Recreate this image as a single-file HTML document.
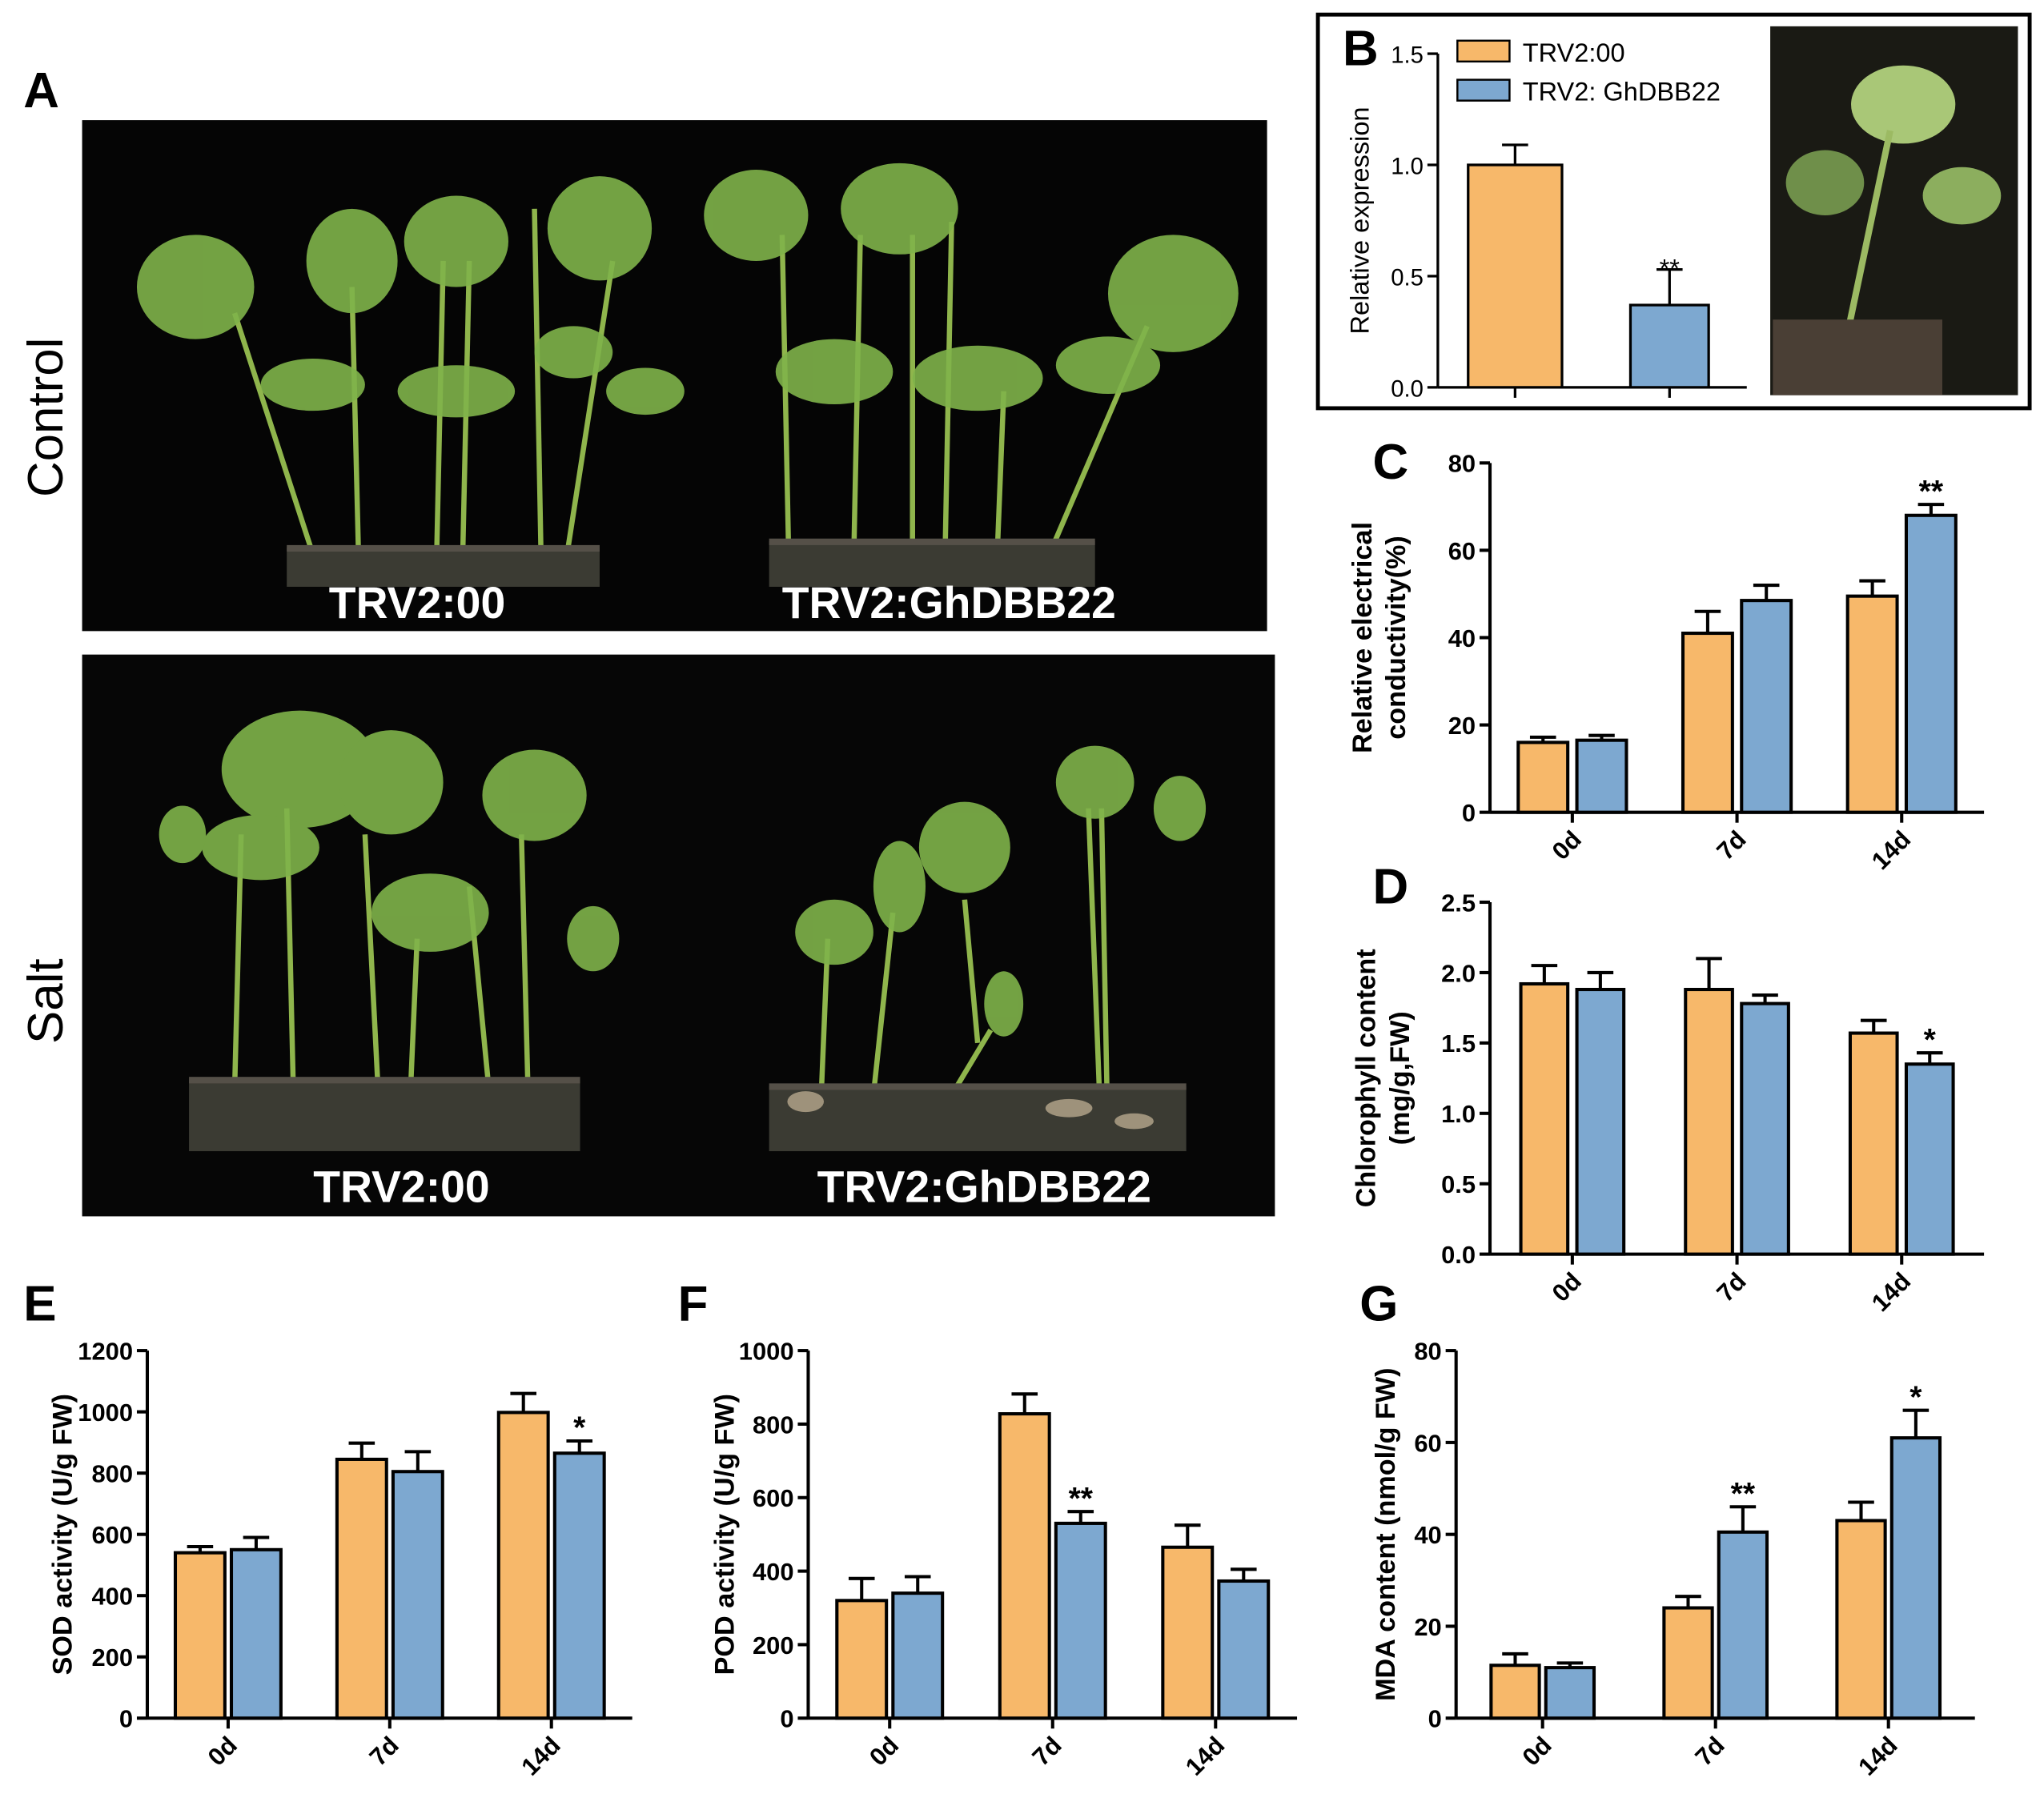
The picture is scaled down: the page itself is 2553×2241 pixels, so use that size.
<!DOCTYPE html>
<html><head><meta charset="utf-8"><style>
html,body{margin:0;padding:0;background:#fff}
svg{display:block}
text{font-family:"Liberation Sans",Arial,sans-serif}
</style></head><body>
<svg id="fig" width="2553" height="2241" viewBox="0 0 1568 1376" xmlns="http://www.w3.org/2000/svg">
<g>
<text x="18" y="82" font-size="38" font-weight="bold">A</text>
<rect x="63" y="92" width="909" height="392" fill="#050505"/>
<rect x="63" y="502" width="915" height="431" fill="#060606"/>
<text transform="translate(48,320) rotate(-90)" text-anchor="middle" font-size="38">Control</text>
<text transform="translate(48,768) rotate(-90)" text-anchor="middle" font-size="38">Salt</text>
<g stroke="#8fb54c" stroke-width="4" fill="none">
<path d="M180 240 L240 425"/><path d="M270 220 L275 425"/><path d="M340 200 L335 425"/><path d="M360 200 L355 425"/><path d="M410 160 L415 425"/><path d="M470 200 L435 425"/>
<path d="M600 180 L605 425"/><path d="M660 180 L655 425"/><path d="M700 180 L700 425"/><path d="M730 170 L725 425"/><path d="M770 300 L765 425"/><path d="M880 250 L805 425"/>
</g>
<g stroke="#8fb54c" stroke-width="4" fill="none">
<path d="M185 640 L180 835"/><path d="M220 620 L225 835"/><path d="M280 640 L290 835"/><path d="M320 720 L315 835"/><path d="M400 640 L405 835"/><path d="M360 680 L375 835"/>
<path d="M635 720 L630 840"/><path d="M685 700 L670 840"/><path d="M740 690 L750 800"/><path d="M760 790 L730 840"/><path d="M845 620 L850 880"/><path d="M835 620 L845 880"/>
</g>
<g fill="#7fb34a" opacity="0.9">
<ellipse cx="150" cy="220" rx="45" ry="40"/><ellipse cx="270" cy="200" rx="35" ry="40"/><ellipse cx="350" cy="185" rx="40" ry="35"/><ellipse cx="460" cy="175" rx="40" ry="40"/>
<ellipse cx="240" cy="295" rx="40" ry="20"/><ellipse cx="350" cy="300" rx="45" ry="20"/><ellipse cx="440" cy="270" rx="30" ry="20"/><ellipse cx="495" cy="300" rx="30" ry="18"/>
<ellipse cx="580" cy="165" rx="40" ry="35"/><ellipse cx="690" cy="160" rx="45" ry="35"/><ellipse cx="900" cy="225" rx="50" ry="45"/><ellipse cx="640" cy="285" rx="45" ry="25"/><ellipse cx="750" cy="290" rx="50" ry="25"/><ellipse cx="850" cy="280" rx="40" ry="22"/>
</g>
<g fill="#7fb34a" opacity="0.9">
<ellipse cx="230" cy="590" rx="60" ry="45"/><ellipse cx="300" cy="600" rx="40" ry="40"/><ellipse cx="410" cy="610" rx="40" ry="35"/><ellipse cx="200" cy="650" rx="45" ry="25"/><ellipse cx="330" cy="700" rx="45" ry="30"/><ellipse cx="455" cy="720" rx="20" ry="25"/><ellipse cx="140" cy="640" rx="18" ry="22"/>
<ellipse cx="740" cy="650" rx="35" ry="35"/><ellipse cx="640" cy="715" rx="30" ry="25"/><ellipse cx="690" cy="680" rx="20" ry="35"/><ellipse cx="840" cy="600" rx="30" ry="28"/><ellipse cx="905" cy="620" rx="20" ry="25"/><ellipse cx="770" cy="770" rx="15" ry="25"/>
</g>
<g fill="#3b3b33">
<rect x="220" y="420" width="240" height="30"/><rect x="590" y="415" width="250" height="35"/>
<rect x="145" y="828" width="300" height="55"/><rect x="590" y="833" width="320" height="50"/>
</g>
<g fill="#555048">
<rect x="220" y="418" width="240" height="5"/><rect x="590" y="413" width="250" height="5"/>
<rect x="145" y="826" width="300" height="5"/><rect x="590" y="831" width="320" height="5"/>
</g>
<g fill="#c9b89a" opacity="0.7">
<ellipse cx="618" cy="845" rx="14" ry="8"/><ellipse cx="820" cy="850" rx="18" ry="7"/><ellipse cx="870" cy="860" rx="15" ry="6"/>
</g>
<g fill="#fff" font-size="34" font-weight="bold" text-anchor="middle">
<text x="320" y="474">TRV2:00</text>
<text x="728" y="474">TRV2:GhDBB22</text>
<text x="308" y="922">TRV2:00</text>
<text x="755" y="922">TRV2:GhDBB22</text>
</g>
</g>
<g>
<rect x="1011" y="11" width="546" height="302" fill="none" stroke="#000" stroke-width="3"/>
<rect x="1358" y="20" width="190" height="283" fill="#1a1a14"/>
<ellipse cx="1460" cy="80" rx="40" ry="30" fill="#a9c777"/>
<ellipse cx="1400" cy="140" rx="30" ry="25" fill="#6f8f4a"/><ellipse cx="1505" cy="150" rx="30" ry="22" fill="#8cae5e"/>
<line x1="1450" y1="100" x2="1410" y2="290" stroke="#9cba63" stroke-width="5"/>
<rect x="1360" y="245" width="130" height="58" fill="#4a3f35"/>
<rect x="1118" y="31" width="40" height="16" fill="#F7B86A" stroke="#000" stroke-width="1.5"/>
<text x="1168" y="47" font-size="20">TRV2:00</text>
<rect x="1118" y="61" width="40" height="16" fill="#7DA8D0" stroke="#000" stroke-width="1.5"/>
<text x="1168" y="77" font-size="20">TRV2: GhDBB22</text>
</g>
<g id="charts"></g>
</svg>
<script>
// Panel B
const bCats = ["TRV2:00", "TRV2: GhDBB22"];
const bValues = [1.0, 0.37];
const bErrors = [1.09, 0.53];
const bSig = ["", "**"];
const bTicks = [0, 0.5, 1.0, 1.5];
const bTickLabels = ["0.0", "0.5", "1.0", "1.5"];
// Shared categories
const days = ["0d", "7d", "14d"];
// Panel C
const cTrv = [16, 41, 49.5];
const cGh = [16.5, 48.5, 68];
const cTrvErr = [17.2, 46, 53];
const cGhErr = [17.6, 52, 70.5];
const cSig = ["", "", "**"];
const cTicks = [0, 20, 40, 60, 80];
// Panel D
const dTrv = [1.92, 1.88, 1.57];
const dGh = [1.88, 1.78, 1.35];
const dTrvErr = [2.05, 2.1, 1.66];
const dGhErr = [2.0, 1.84, 1.43];
const dSig = ["", "", "*"];
const dTicks = [0, 0.5, 1.0, 1.5, 2.0, 2.5];
// Panel E
const eTrv = [540, 845, 998];
const eGh = [550, 805, 865];
const eTrvErr = [560, 898, 1060];
const eGhErr = [590, 870, 905];
const eSig = ["", "", "*"];
const eTicks = [0, 200, 400, 600, 800, 1000, 1200];
// Panel F
const fTrv = [320, 828, 465];
const fGh = [340, 530, 373];
const fTrvErr = [380, 882, 525];
const fGhErr = [385, 562, 405];
const fSig = ["", "**", ""];
const fTicks = [0, 200, 400, 600, 800, 1000];
// Panel G
const gTrv = [11.5, 24, 43];
const gGh = [11, 40.5, 61];
const gTrvErr = [14, 26.5, 47];
const gGhErr = [12, 46, 67];
const gSig = ["", "**", "*"];
const gTicks = [0, 20, 40, 60, 80];

const NS = "http://www.w3.org/2000/svg";
const root = document.getElementById("charts");
const ORANGE = "#F7B86A", BLUE = "#7DA8D0";
function mk(tag, attrs, parent) {
  const e = document.createElementNS(NS, tag);
  for (const k in attrs) e.setAttribute(k, attrs[k]);
  (parent || root).appendChild(e);
  return e;
}
function fmt(v, dec) { return dec ? v.toFixed(1) : String(v); }

function chart(o) {
  const g = mk("g", {});
  
  
  const yMax = o.ticks[o.ticks.length - 1];
  const y = v => o.y0 - (v / yMax) * (o.y0 - o.y1);
  const band = (o.x1 - o.x0) / o.cats.length;
  const cx = i => o.x0 + band * (i + 0.5);
  const ya = mk("line", {x1: o.x0, y1: o.y0, x2: o.x0, y2: o.y1, stroke: "#000", "stroke-width": 2.5}, g);
  
  
  const xa = mk("line", {x1: o.x0, y1: o.y0, x2: o.x1, y2: o.y0, stroke: "#000", "stroke-width": 2.5}, g);
  
  
  o.ticks.forEach((t, i) => {
    mk("line", {x1: o.x0 - 8, y1: y(t), x2: o.x0, y2: y(t), stroke: "#000", "stroke-width": 2.5}, g);
    const tl = mk("text", {x: o.x0 - 11, y: y(t) + 7, "text-anchor": "end", "font-size": 19, "font-weight": "bold"}, g);
    tl.textContent = o.tickLabels ? o.tickLabels[i] : fmt(t, o.dec);
    
    
  });
  o.title.forEach((line, k) => {
    const tx = o.titleX + k * 26;
    const tt = mk("text", {transform: `translate(${tx},${(o.y0 + o.y1) / 2}) rotate(-90)`, "text-anchor": "middle", "font-size": 21, "font-weight": "bold"}, g);
    tt.textContent = line;
    
    
  });
  const pl = mk("text", {x: o.labelX, y: o.labelY, "font-size": 38, "font-weight": "bold"}, g);
  pl.textContent = o.label;
  
  
  o.cats.forEach((c, i) => {
    mk("line", {x1: cx(i), y1: o.y0, x2: cx(i), y2: o.y0 + 8, stroke: "#000", "stroke-width": 2.5}, g);
    if (o.rotLabels) {
      const xl = mk("text", {transform: `translate(${cx(i) + 8},${o.y0 + 22}) rotate(-45)`, "text-anchor": "end", "font-size": 19, "font-weight": "bold"}, g);
      xl.textContent = c;
      
      
    }
    o.series.forEach((s, j) => {
      const n = o.series.length;
      const bx = n === 1 ? cx(i) - o.bw / 2 : cx(i) + (j === 0 ? -o.bw - o.gap / 2 : o.gap / 2);
      const top = y(s.vals[i]);
      const eTop = y(s.err[i]);
      const ex = bx + o.bw / 2;
      const el = mk("line", {x1: ex, y1: top, x2: ex, y2: eTop, stroke: "#000", "stroke-width": 2.5}, g);
      
      
      mk("line", {x1: ex - 10, y1: eTop, x2: ex + 10, y2: eTop, stroke: "#000", "stroke-width": 2.5}, g);
      const r = mk("rect", {x: bx, y: top, width: o.bw, height: o.y0 - top, fill: s.color, stroke: "#000", "stroke-width": 2.5}, g);
      
      
      if (s.sig && s.sig[i]) {
        const st = mk("text", {x: ex, y: eTop - 2, "text-anchor": "middle", "font-size": 24, "font-weight": "bold"}, g);
        st.textContent = s.sig[i];
        
        
      }
    });
  });
}

(function () {
  const g = mk("g", {});
  
  
  const x0 = 1103, x1 = 1340, y0 = 297, y1 = 41, yMax = 1.5;
  const y = v => y0 - (v / yMax) * (y0 - y1);
  const band = (x1 - x0) / bCats.length;
  const cols = [ORANGE, BLUE];
  const widths = [72, 60];
  mk("line", {x1: x0, y1: y0, x2: x0, y2: y1, stroke: "#000", "stroke-width": 2}, g);
  mk("line", {x1: x0, y1: y0, x2: x1, y2: y0, stroke: "#000", "stroke-width": 2}, g);
  bTicks.forEach((t, i) => {
    mk("line", {x1: x0 - 8, y1: y(t), x2: x0, y2: y(t), stroke: "#000", "stroke-width": 2}, g);
    const tl = mk("text", {x: x0 - 11, y: y(t) + 7, "text-anchor": "end", "font-size": 18}, g);
    tl.textContent = bTickLabels[i];
    
    
  });
  const tt = mk("text", {transform: `translate(1050,169) rotate(-90)`, "text-anchor": "middle", "font-size": 20}, g);
  tt.textContent = "Relative expression";
  
  
  const pl = mk("text", {x: 1030, y: 50, "font-size": 38, "font-weight": "bold"}, g);
  pl.textContent = "B";
  
  
  bCats.forEach((c, i) => {
    const cx = x0 + band * (i + 0.5);
    mk("line", {x1: cx, y1: y0, x2: cx, y2: y0 + 8, stroke: "#000", "stroke-width": 2}, g);
    mk("line", {x1: cx, y1: y(bValues[i]), x2: cx, y2: y(bErrors[i]), stroke: "#000", "stroke-width": 2}, g);
    mk("line", {x1: cx - 10, y1: y(bErrors[i]), x2: cx + 10, y2: y(bErrors[i]), stroke: "#000", "stroke-width": 2}, g);
    const r = mk("rect", {x: cx - widths[i] / 2, y: y(bValues[i]), width: widths[i], height: y0 - y(bValues[i]), fill: cols[i], stroke: "#000", "stroke-width": 2}, g);
    
    
    if (bSig[i]) {
      const st = mk("text", {x: cx, y: y(bErrors[i]) + 6, "text-anchor": "middle", "font-size": 20}, g);
      st.textContent = bSig[i];
      
      
    }
  });
})();

chart({name: "panel-c-chart", label: "C", labelX: 1053, labelY: 367, x0: 1143, x1: 1522, y0: 623, y1: 355, ticks: cTicks, cats: days, bw: 38, gap: 7, rotLabels: true,
  title: ["Relative electrical", "conductivity(%)"], titleX: 1052,
  series: [{key: "trv200", vals: cTrv, err: cTrvErr, color: ORANGE}, {key: "ghdbb22", vals: cGh, err: cGhErr, color: BLUE, sig: cSig}]});
chart({name: "panel-d-chart", label: "D", labelX: 1053, labelY: 693, x0: 1143, x1: 1522, y0: 962, y1: 692, ticks: dTicks, dec: true, cats: days, bw: 36, gap: 7, rotLabels: true,
  title: ["Chlorophyll content", "(mg/g,FW)"], titleX: 1055,
  series: [{key: "trv200", vals: dTrv, err: dTrvErr, color: ORANGE}, {key: "ghdbb22", vals: dGh, err: dGhErr, color: BLUE, sig: dSig}]});
chart({name: "panel-e-chart", label: "E", labelX: 18, labelY: 1013, x0: 113, x1: 485, y0: 1318, y1: 1036, ticks: eTicks, cats: days, bw: 38, gap: 5, rotLabels: true,
  title: ["SOD activity (U/g FW)"], titleX: 55,
  series: [{key: "trv200", vals: eTrv, err: eTrvErr, color: ORANGE}, {key: "ghdbb22", vals: eGh, err: eGhErr, color: BLUE, sig: eSig}]});
chart({name: "panel-f-chart", label: "F", labelX: 520, labelY: 1013, x0: 620, x1: 995, y0: 1318, y1: 1036, ticks: fTicks, cats: days, bw: 38, gap: 5, rotLabels: true,
  title: ["POD activity (U/g FW)"], titleX: 563,
  series: [{key: "trv200", vals: fTrv, err: fTrvErr, color: ORANGE}, {key: "ghdbb22", vals: fGh, err: fGhErr, color: BLUE, sig: fSig}]});
chart({name: "panel-g-chart", label: "G", labelX: 1043, labelY: 1013, x0: 1117, x1: 1515, y0: 1318, y1: 1036, ticks: gTicks, cats: days, bw: 37, gap: 5, rotLabels: true,
  title: ["MDA content (nmol/g FW)"], titleX: 1070,
  series: [{key: "trv200", vals: gTrv, err: gTrvErr, color: ORANGE}, {key: "ghdbb22", vals: gGh, err: gGhErr, color: BLUE, sig: gSig}]});
</script>
</body></html>
